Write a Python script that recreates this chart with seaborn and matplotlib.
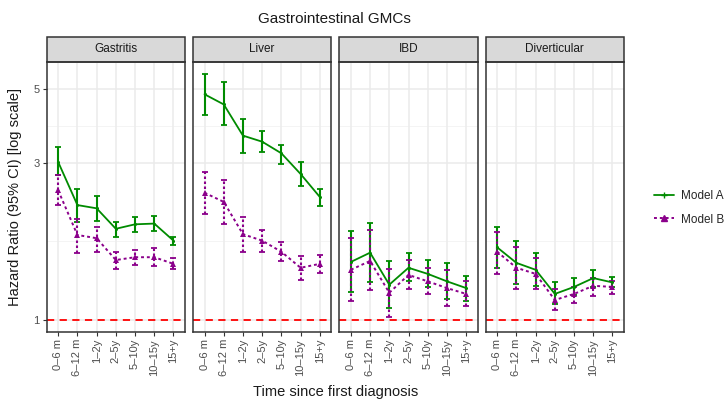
import numpy as np
import pandas as pd
import matplotlib
matplotlib.use("Agg")
import matplotlib.pyplot as plt
from matplotlib.patches import Rectangle
from matplotlib.lines import Line2D
import seaborn as sns

sns.set_theme(style="white")
plt.rcParams['font.family'] = ['Liberation Sans', 'DejaVu Sans']

categories = ["0\u20136 m", "6\u201312 m", "1\u20132y", "2\u20135y", "5\u201310y", "10\u201315y", "15+y"]
panels = ["Gastritis", "Liver", "IBD", "Diverticular"]

# Model A: estimates, lower, upper
gas_a = [3.01, 2.23, 2.18, 1.89, 1.95, 1.96, 1.74]
gas_a_lo = [2.75, 1.98, 1.99, 1.79, 1.85, 1.86, 1.69]
gas_a_hi = [3.35, 2.50, 2.37, 1.98, 2.05, 2.07, 1.79]
liv_a = [4.83, 4.50, 3.62, 3.47, 3.20, 2.77, 2.36]
liv_a_lo = [4.17, 3.89, 3.21, 3.22, 2.98, 2.55, 2.21]
liv_a_hi = [5.55, 5.26, 4.06, 3.73, 3.39, 3.01, 2.50]
ibd_a = [1.50, 1.60, 1.28, 1.44, 1.38, 1.31, 1.25]
ibd_a_lo = [1.22, 1.30, 1.09, 1.31, 1.26, 1.16, 1.14]
ibd_a_hi = [1.86, 1.97, 1.51, 1.60, 1.52, 1.49, 1.36]
div_a = [1.66, 1.49, 1.42, 1.20, 1.26, 1.34, 1.30]
div_a_lo = [1.44, 1.29, 1.27, 1.12, 1.19, 1.26, 1.26]
div_a_hi = [1.92, 1.73, 1.60, 1.30, 1.34, 1.42, 1.35]

# Model B
gas_b = [2.47, 1.81, 1.77, 1.52, 1.55, 1.55, 1.48]
gas_b_lo = [2.23, 1.60, 1.61, 1.43, 1.47, 1.46, 1.43]
gas_b_hi = [2.75, 2.03, 1.92, 1.61, 1.63, 1.65, 1.54]
liv_b = [2.43, 2.28, 1.82, 1.74, 1.61, 1.44, 1.48]
liv_b_lo = [2.10, 1.95, 1.61, 1.61, 1.51, 1.32, 1.39]
liv_b_hi = [2.81, 2.65, 2.05, 1.87, 1.72, 1.56, 1.57]
ibd_b = [1.42, 1.51, 1.21, 1.37, 1.31, 1.25, 1.20]
ibd_b_lo = [1.14, 1.23, 1.02, 1.24, 1.20, 1.10, 1.10]
ibd_b_hi = [1.77, 1.87, 1.43, 1.52, 1.44, 1.42, 1.31]
div_b = [1.61, 1.44, 1.38, 1.15, 1.20, 1.27, 1.26]
div_b_lo = [1.38, 1.24, 1.24, 1.07, 1.13, 1.18, 1.20]
div_b_hi = [1.85, 1.67, 1.54, 1.24, 1.26, 1.34, 1.31]

models = ["Model A", "Model B"]
est = {("Gastritis", "Model A"): (gas_a, gas_a_lo, gas_a_hi),
       ("Liver", "Model A"): (liv_a, liv_a_lo, liv_a_hi),
       ("IBD", "Model A"): (ibd_a, ibd_a_lo, ibd_a_hi),
       ("Diverticular", "Model A"): (div_a, div_a_lo, div_a_hi),
       ("Gastritis", "Model B"): (gas_b, gas_b_lo, gas_b_hi),
       ("Liver", "Model B"): (liv_b, liv_b_lo, liv_b_hi),
       ("IBD", "Model B"): (ibd_b, ibd_b_lo, ibd_b_hi),
       ("Diverticular", "Model B"): (div_b, div_b_lo, div_b_hi)}

rows = []
for (p, m), (v, lo, hi) in est.items():
    for i, c in enumerate(categories):
        rows.append(dict(panel=p, model=m, cat=c, pos=i, hr=v[i], lo=lo[i], hi=hi[i]))
df = pd.DataFrame(rows)

colors = {"Model A": "#008B00", "Model B": "#8B008B"}
markers = {"Model A": "o", "Model B": "^"}
msizes = {"Model A": 2.2, "Model B": 5}
dash = {"Model A": "", "Model B": (1.5, 1.5)}
lws = {"Model A": 1.3, "Model B": 1.4}

fig, axes = plt.subplots(1, 4, figsize=(7.26, 4.0), dpi=100, sharey=True)
fig.subplots_adjust(left=0.0643, right=0.8595, bottom=0.17, top=0.845, wspace=0.058)

grid_c = "#EBEBEB"
for ax, p in zip(axes, panels):
    sub = df[df.panel == p]
    ax.set_yscale("log")
    ax.set_ylim(0.92, 6.05)
    ax.set_xlim(-0.6, 6.6)
    for gy in [1, 3, 5]:
        ax.axhline(gy, color=grid_c, lw=1.1, zorder=0)
    for gy in [1.732, 3.873]:
        ax.axhline(gy, color="#F2F2F2", lw=0.6, zorder=0)
    for gx in range(len(categories)):
        ax.axvline(gx, color=grid_c, lw=1.1, zorder=0)
    ax.axhline(1, color="red", ls=(0, (4, 3)), lw=1.3, zorder=1)
    for m in models:
        s = sub[sub.model == m]
        eb = ax.errorbar(s.pos, s.hr, yerr=[s.hr - s.lo, s.hi - s.hr], fmt="none",
                         ecolor=colors[m], elinewidth=1.5, capsize=2, capthick=1.3, zorder=3)
        if m == "Model B":
            eb[2][0].set_linestyle((0, (1.2, 1.2)))
        sns.lineplot(data=s, x="pos", y="hr", color=colors[m], marker=markers[m],
                     markersize=msizes[m], markeredgewidth=0, dashes=dash[m],
                     linewidth=lws[m], ax=ax, legend=False, zorder=4, sort=False, estimator=None)
    ax.set_xticks(range(len(categories)))
    ax.set_xticklabels(categories, rotation=90, fontsize=8, color="#4D4D4D")
    ax.set_xlabel("")
    ax.set_ylabel("")
    ax.set_yticks([1, 3, 5])
    ax.set_yticks([], minor=True)
    ax.set_yticklabels(["1", "3", "5"], fontsize=8, color="#4D4D4D")
    ax.tick_params(axis="both", length=3, width=0.8, color="#333333", bottom=True, left=True, pad=2)
    for sp in ax.spines.values():
        sp.set_color("#333333")
        sp.set_linewidth(1.1)
    sh = 25 / 270
    ax.add_patch(Rectangle((0, 1), 1, sh, transform=ax.transAxes, clip_on=False,
                           facecolor="#D9D9D9", edgecolor="#333333", lw=1.1))
    ax.text(0.5, 1 + sh / 2, p, transform=ax.transAxes, ha="center", va="center",
            fontsize=8.5, color="#1A1A1A")

for ax in axes[1:]:
    ax.tick_params(axis="y", left=False, labelleft=False)

fig.text(0.02, 0.5075, "Hazard Ratio (95% CI) [log scale]", rotation=90, ha="center", va="center",
         fontsize=10.5, color="#1A1A1A")
fig.text(0.462, 0.02, "Time since first diagnosis", ha="center", va="center", fontsize=10.5,
         color="#1A1A1A")
fig.text(0.461, 0.952, "Gastrointestinal GMCs", ha="center", va="center", fontsize=11,
         color="#1A1A1A")

handles = [Line2D([0], [0], color=colors["Model A"], lw=1.3, marker="+", markersize=4),
           Line2D([0], [0], color=colors["Model B"], lw=1.4, ls=(0, (1.5, 1.5)), marker="^", markersize=5)]
fig.legend(handles, models, loc="center left", bbox_to_anchor=(0.893, 0.48), frameon=False,
           fontsize=8.5, handlelength=1.7, handletextpad=0.6, labelspacing=0.95, borderpad=0)

fig.savefig("out.png", dpi=100)
